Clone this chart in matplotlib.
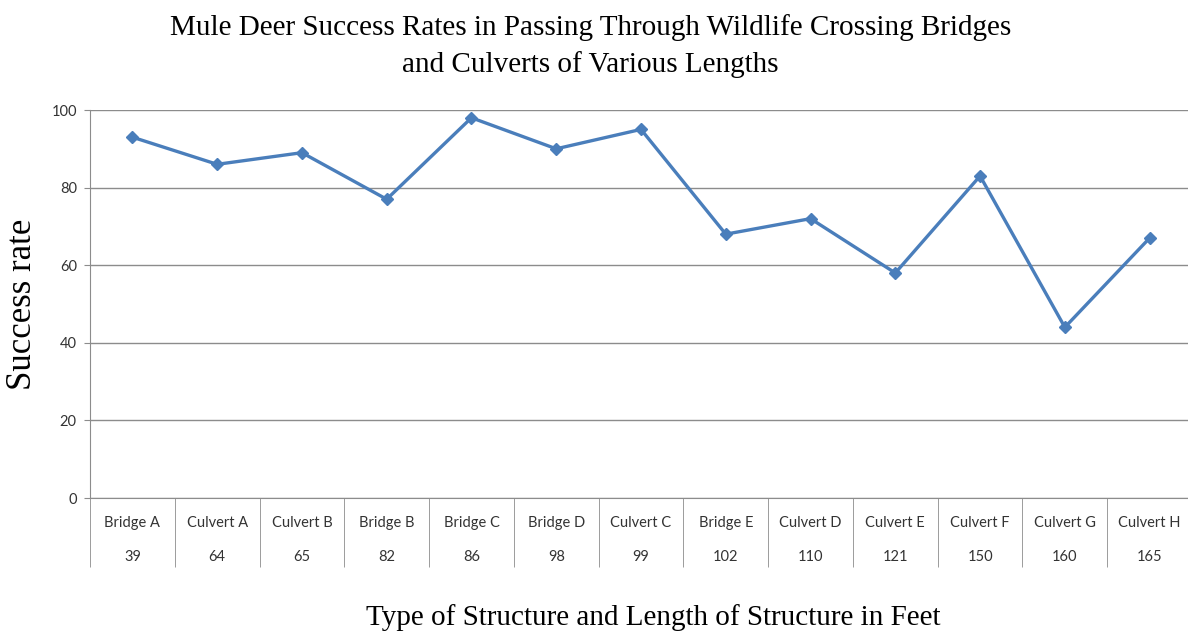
import numpy as np
import matplotlib
matplotlib.use('Agg')
import matplotlib.pyplot as plt

structures = ['Bridge A', 'Culvert A', 'Culvert B', 'Bridge B', 'Bridge C', 'Bridge D', 'Culvert C',
              'Bridge E', 'Culvert D', 'Culvert E', 'Culvert F', 'Culvert G', 'Culvert H']
lengths = ['39', '64', '65', '82', '86', '98', '99', '102', '110', '121', '150', '160', '165']
success = [93, 86, 89, 77, 98, 90, 95, 68, 72, 58, 83, 44, 67]
yticks = [0, 20, 40, 60, 80, 100]

serif = 'Liberation Serif'
sans = 'Lato'
line_col = '#4a7ebb'
grid_col = '#8c8c8c'

fig = plt.figure(figsize=(11.88, 6.42), dpi=100)
ax = fig.add_axes([90/1188, 1 - 498/642, 1102/1188, 388/642])

x = np.arange(len(success))
ax.plot(x, success, color=line_col, lw=2.4, marker='D', ms=6.5, mec=line_col, mfc=line_col, zorder=3)

ax.set_xlim(-0.5, len(success) - 0.5)
ax.set_ylim(0, 100)
ax.set_yticks(yticks)
ax.set_yticklabels([str(v) for v in yticks], fontsize=10.5, family=sans, color='#333333')
ax.yaxis.grid(True, color=grid_col, lw=1)
ax.set_axisbelow(True)

for s in ['top', 'right']:
    ax.spines[s].set_visible(False)
ax.spines['left'].set_color(grid_col)
ax.spines['bottom'].set_color(grid_col)
ax.tick_params(axis='y', length=4.5, color=grid_col, pad=5)

# table-like category axis: dividers as long minor ticks
ax.set_xticks([])
ax.set_xticks(np.arange(-0.5, len(success) - 0.5 + 0.01, 1.0)[:-1], minor=True)
ax.tick_params(axis='x', which='minor', length=50, color=grid_col, direction='out')

trans = ax.get_xaxis_transform()
for i in range(len(structures)):
    ax.text(i, -25/388, structures[i], transform=trans, ha='center', va='center',
            fontsize=10.5, family=sans, color='#333333')
    ax.text(i, -59/388, lengths[i], transform=trans, ha='center', va='center',
            fontsize=10.5, family=sans, color='#333333')

fig.text(0.497, 1 - 35/642, 'Mule Deer Success Rates in Passing Through Wildlife Crossing Bridges',
         ha='center', va='baseline', fontsize=21, family=serif)
fig.text(0.497, 1 - 72/642, 'and Culverts of Various Lengths',
         ha='center', va='baseline', fontsize=21, family=serif)
fig.text(653/1188, 1 - 625/642, 'Type of Structure and Length of Structure in Feet',
         ha='center', va='baseline', fontsize=21, family=serif)
fig.text(23/1188, 1 - 304/642, 'Success rate', rotation=90,
         ha='center', va='center', fontsize=25, family=serif)

fig.savefig('out.png', dpi=100)
